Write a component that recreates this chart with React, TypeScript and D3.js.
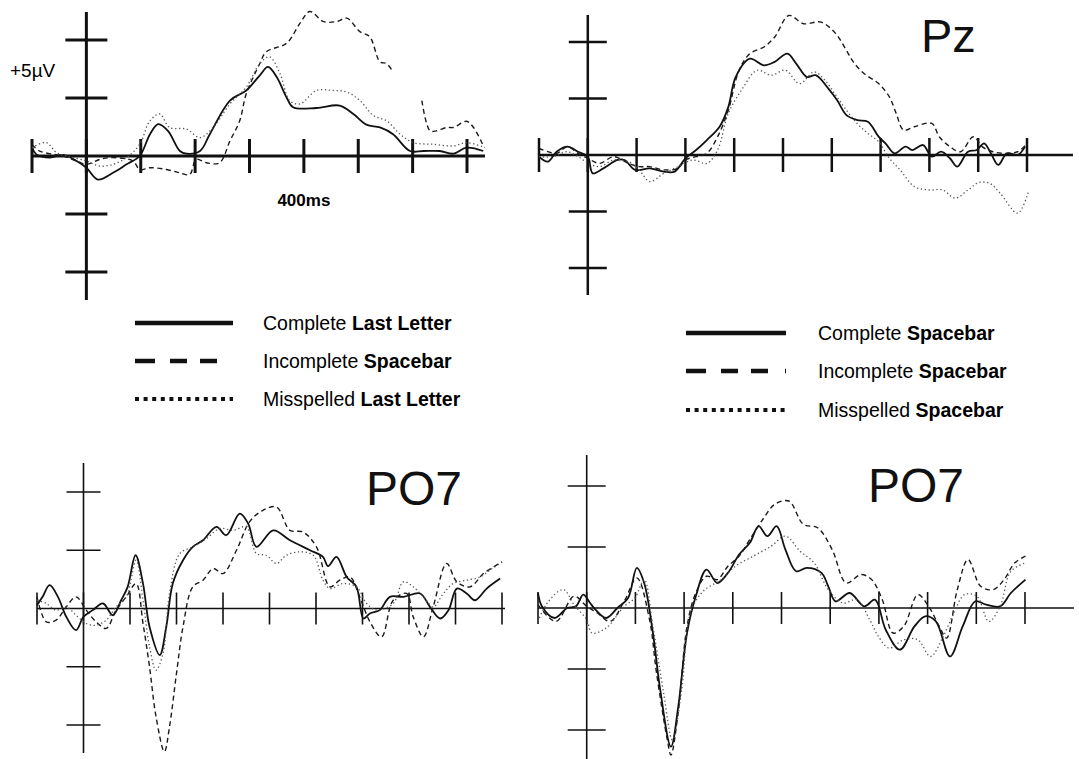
import React from "react"
import * as d3 from "d3"

const width = 1079
const height = 759

// ERP waveforms, [time ms, amplitude µV]; NaN marks a gap in the trace
const tlComplete: [number, number][] = [
  [-100, 0.72], [-92, 0.14], [-67, -0.14], [-43, 0.09], [-18, -0.43], [0, -1.01], [21, -2.03],
  [49, -1.45], [74, -0.72], [98, 0], [117, 1.88], [132, 2.75], [150, 2.17], [172, 0.43],
  [184, 0.2], [209, 0.43], [227, 1.88], [264, 4.78], [294, 5.65], [319, 6.96], [334, 7.68],
  [350, 6.81], [368, 5.07], [380, 4.2], [423, 4.14], [466, 4.35], [491, 3.62], [515, 2.7],
  [540, 2.46], [564, 1.88], [595, 0.43], [620, 0.43], [650, 0.43], [675, 0.2], [699, 0.72],
  [730, 0.43],
]
const tlIncomplete: [number, number][] = [
  [-100, 1.0], [-86, 0.43], [-43, 0], [-18, -0.43], [0, -0.72], [25, -0.29], [49, -0.14],
  [86, -0.43], [98, -1.16], [117, -1.01], [147, -1.16], [172, -1.45], [190, -1.59],
  [202, -0.29], [221, -0.58], [245, -0.58], [264, 1.3], [282, 3.04], [294, 5.36], [319, 7.97],
  [331, 8.99], [368, 9.71], [393, 11.45], [411, 12.46], [436, 11.59], [460, 11.59],
  [479, 11.88], [503, 10.72], [521, 10.29], [540, 8.12], [552, 7.97], [564, 7.25],
  [590, NaN],
  [617, 4.78], [632, 2.17], [644, 2.17], [663, 2.46], [675, 2.46], [699, 2.99], [712, 2.46],
  [730, 0.87],
]
const tlMisspelled: [number, number][] = [
  [-100, 0.72], [-74, 1.16], [-55, 0.29], [-37, 0], [0, -0.43], [25, -0.87], [49, -0.72],
  [74, -0.14], [98, 1.01], [117, 3.04], [135, 3.62], [153, 2.46], [184, 2.32], [209, 1.59],
  [233, 2.46], [264, 4.49], [294, 5.94], [319, 7.97], [337, 8.55], [356, 7.1], [374, 4.78],
  [393, 4.49], [423, 5.65], [454, 5.65], [479, 5.51], [503, 4.78], [528, 3.48], [552, 3.04],
  [577, 1.88], [601, 1.16], [638, 1.01], [675, 0.87], [699, 1.16], [733, 0.72],
]

const trComplete: [number, number][] = [
  [-100, -0.15], [-82, -0.59], [-64, 0.29], [-42, 0.74], [-20, 0.29], [0, -0.15], [10, -1.62],
  [32, -1.18], [61, -0.44], [75, -0.44], [97, -1.32], [127, -1.18], [156, -1.47], [178, -1.47],
  [200, -0.29], [222, 0.44], [244, 1.32], [270, 2.5], [288, 4.26], [303, 6.9], [332, 8.53],
  [361, 7.94], [383, 8.24], [409, 8.97], [427, 8.09], [449, 6.9], [467, 7.06], [493, 5.88],
  [511, 4.85], [530, 3.53], [552, 3.09], [574, 2.94], [596, 1.62], [610, 1.03], [629, 0.15],
  [651, 0.74], [665, 0.44], [687, 0.88], [705, -0.15], [724, 0.29], [742, -0.29], [757, -1.03],
  [779, 0.29], [797, 0.44], [812, 1.03], [826, 0.15], [841, -0.88], [859, 0.15], [881, 0],
  [896, 0.74],
]
const trIncomplete: [number, number][] = [
  [-100, 0.59], [-64, 0.15], [-42, 0.74], [-20, 0.15], [0, -0.29], [24, -0.74], [53, -0.15],
  [83, -0.74], [105, -1.03], [127, -1.03], [156, -1.32], [185, -1.18], [200, -0.44],
  [222, -0.15], [244, 0.15], [266, 1.62], [288, 3.97], [310, 7.5], [332, 8.97], [361, 9.56],
  [383, 10.44], [412, 12.35], [442, 11.62], [478, 11.76], [508, 10.74], [530, 9.26],
  [544, 8.24], [566, 7.21], [596, 6.32], [618, 5.15], [632, 3.68], [647, 2.21], [669, 2.5],
  [705, 2.79], [720, 1.62], [742, 0.74], [764, 0.29], [790, 1.62], [808, 0.74], [830, 0.29],
  [852, 0.15], [881, 0.29], [900, 1.03],
]
const trMisspelled: [number, number][] = [
  [-100, -0.15], [-71, -0.15], [-42, 0.29], [-20, -0.15], [2, -0.74], [24, -1.03], [53, -0.44],
  [83, -0.59], [105, -1.32], [127, -2.35], [156, -1.62], [185, -1.03], [215, -0.44],
  [244, -0.74], [266, 0.44], [288, 3.68], [317, 5.88], [347, 7.5], [376, 7.06], [405, 7.5],
  [434, 6.32], [464, 7.35], [486, 6.62], [508, 5.29], [530, 3.97], [552, 2.79], [574, 1.91],
  [596, 1.18], [618, -0.29], [640, -1.32], [669, -2.79], [698, -3.09], [727, -3.09],
  [753, -3.82], [779, -3.09], [801, -2.44], [823, -2.5], [845, -3.38], [881, -5.15],
  [903, -3.24],
]

const blComplete: [number, number][] = [
  [-100, 0.29], [-88, 1.0], [-73, 2.0], [-55, 1.0], [-37, -0.71], [-16, -1.86], [0, -0.71],
  [20, -0.14], [42, 0.43], [63, -0.57], [81, 0.71], [95, 1.86], [112, 4.57], [128, 2.14],
  [142, -1.57], [164, -4.0], [178, -1.57], [192, 2.14], [214, 4.14], [235, 5.29], [257, 5.86],
  [286, 7.0], [307, 6.29], [336, 8.14], [354, 7.29], [372, 5.29], [408, 6.71], [444, 5.86],
  [487, 5.0], [515, 4.43], [526, 3.63], [544, 4.43], [566, 2.71], [587, 1.86], [602, -0.86],
  [616, -0.43], [637, -0.14], [659, 1.0], [688, 1.0], [724, 1.29], [745, 0.14], [767, -0.86],
  [785, -0.14], [803, 1.71], [824, 1.29], [842, 0.71], [867, 1.71], [896, 2.57],
]
const blIncomplete: [number, number][] = [
  [-100, 1.0], [-80, -1.14], [-59, -1.0], [-37, 0.14], [-16, 1.0], [6, -0.14], [27, -1.14],
  [49, -1.71], [70, -0.14], [92, 1.0], [113, 2.14], [128, -1.29], [142, -5.0], [156, -9.29],
  [174, -12.29], [185, -10.14], [200, -5.57], [214, -1.57], [235, 1.86], [257, 2.43],
  [279, 3.43], [300, 3.0], [329, 5.0], [357, 7.43], [386, 8.43], [415, 8.71], [444, 6.71],
  [472, 6.57], [501, 5.29], [530, 1.86], [551, 2.43], [573, 2.71], [594, 1.0], [616, -1.14],
  [641, -2.43], [666, 0.71], [695, 1.29], [709, -0.71], [731, -2.43], [752, 0.14],
  [781, 3.86], [803, 2.29], [831, 1.86], [860, 3.0], [882, 3.57], [900, 4.0],
]
const blMisspelled: [number, number][] = [
  [-100, 0.71], [-80, 0.43], [-59, -0.14], [-37, 0.14], [-16, -0.57], [6, -1.29], [27, -1.43],
  [49, -1.0], [70, 0.14], [92, 1.0], [113, 4.14], [128, 0.71], [142, -3.29], [156, -5.29],
  [171, -3.86], [185, 1.29], [207, 4.71], [235, 5.29], [264, 6.0], [293, 6.86], [322, 6.71],
  [350, 7.0], [372, 4.71], [393, 4.57], [415, 3.86], [436, 4.57], [465, 4.86], [494, 4.57],
  [515, 2.43], [530, 1.71], [558, 2.14], [587, 1.86], [609, 0.43], [630, -0.14], [666, 0.43],
  [688, 2.29], [709, 1.86], [731, 1.0], [752, 0.14], [774, 1.29], [795, 2.14], [824, 2.43],
  [853, 2.71], [874, 3.29], [900, 4.0],
]

const brComplete: [number, number][] = [
  [-100, 1.23], [-92, 0.14], [-66, -0.82], [-40, 0], [-22, 0.14], [-7, 1.1], [7, 0.41],
  [18, -0.14], [40, -0.82], [63, 0], [85, 0.82], [103, 3.29], [118, 2.05], [136, -2.05],
  [151, -6.71], [173, -11.37], [188, -8.08], [206, -2.05], [224, 0.96], [246, 3.15],
  [268, 2.05], [290, 2.88], [313, 4.38], [335, 5.34], [353, 6.71], [371, 5.89], [390, 6.71],
  [408, 4.79], [430, 3.01], [452, 3.29], [482, 2.88], [496, 1.78], [511, 0.55], [540, 1.23],
  [570, 0.14], [592, 0.68], [614, -1.78], [643, -3.42], [673, -1.51], [695, -0.68],
  [717, -1.1], [746, -3.97], [772, -1.51], [798, 0.55], [820, 0.27], [849, 0.14], [871, 1.23],
  [901, 2.33],
]
const brIncomplete: [number, number][] = [
  [-100, 0.27], [-63, -1.1], [-26, 0.96], [0, 0.14], [22, -0.41], [48, -1.1], [77, 0.55],
  [103, 2.47], [129, -0.96], [143, -5.21], [165, -10.68], [173, -12.05], [188, -8.49],
  [206, -1.51], [224, 1.23], [246, 2.6], [268, 2.33], [290, 3.42], [313, 4.25], [335, 5.62],
  [364, 7.4], [386, 8.49], [415, 8.77], [445, 6.85], [474, 6.58], [504, 4.79], [533, 2.05],
  [563, 2.74], [585, 2.33], [607, 0.68], [629, -2.05], [651, -1.51], [680, 1.1], [702, 0.14],
  [724, -1.51], [739, -2.47], [761, 1.51], [783, 3.97], [809, 1.78], [835, 1.51], [857, 2.33],
  [879, 3.7], [901, 4.25],
]
const brMisspelled: [number, number][] = [
  [-100, -1.1], [-81, 0.41], [-48, 1.51], [-26, 0.27], [0, -0.96], [11, -2.05], [40, -1.64],
  [77, 0.14], [99, 0.82], [118, 2.33], [136, -1.51], [158, -6.99], [176, -10.82],
  [195, -6.71], [213, -0.41], [239, 1.37], [276, 2.33], [305, 3.42], [342, 4.25], [379, 5.07],
  [408, 5.89], [438, 4.66], [467, 3.7], [496, 1.51], [526, 0.41], [555, 0.68], [581, -0.96],
  [599, -2.33], [621, -3.29], [651, -2.6], [680, -2.6], [706, -3.97], [732, -2.33],
  [754, -0.41], [776, 1.1], [801, 0.96], [826, -1.1], [849, 0.14], [871, 3.01], [901, 3.7],
]

// ticks and labels
const shortTimeTicks = [-100, 0, 100, 200, 300, 400, 500, 600, 700]
const longTimeTicks = [-100, 0, 100, 200, 300, 400, 500, 600, 700, 800, 900]
const voltTicks = [-10, -5, 5, 10]
const leftLegend = [
  ["Complete ", "Last Letter"],
  ["Incomplete ", "Spacebar"],
  ["Misspelled ", "Last Letter"],
]
const rightLegend = [
  ["Complete ", "Spacebar"],
  ["Incomplete ", "Spacebar"],
  ["Misspelled ", "Spacebar"],
]

const styles = [
  { stroke: "#111", strokeWidth: 1.8, dash: "none" },
  { stroke: "#1a1a1a", strokeWidth: 1.4, dash: "5 3.5" },
  { stroke: "#555", strokeWidth: 1.3, dash: "1.3 2.6" },
]
const legendDash = ["none", "20 15 17 13 17 17 2 60", "4 4.6"]

const panels = [
  {
    key: "tl", series: [tlComplete, tlIncomplete, tlMisspelled], ticks: shortTimeTicks,
    x: [-100, 700, 32, 467], xEnd: 485, y: [272, 40], yAxis: [12, 300], xTick: 17, yTick: 21,
    axisWidth: 3,
  },
  {
    key: "tr", series: [trComplete, trIncomplete, trMisspelled], ticks: longTimeTicks,
    x: [-100, 900, 539, 1027], xEnd: 1073, y: [268, 42], yAxis: [15, 295], xTick: 17, yTick: 19,
    axisWidth: 2.5, label: "Pz", lx: 921, ly: 52,
  },
  {
    key: "bl", series: [blComplete, blIncomplete, blMisspelled], ticks: longTimeTicks,
    x: [-100, 900, 37, 502], xEnd: 505, y: [725, 492], yAxis: [463, 753], xTick: 16, yTick: 17,
    axisWidth: 1.6, label: "PO7", lx: 366, ly: 505,
  },
  {
    key: "br", series: [brComplete, brIncomplete, brMisspelled], ticks: longTimeTicks,
    x: [-100, 900, 538, 1025], xEnd: 1074, y: [730, 486], yAxis: [455, 759], xTick: 16, yTick: 19,
    axisWidth: 1.6, label: "PO7", lx: 868, ly: 502,
  },
]

const Panel = ({ p }) => {
  const xScale = d3.scaleLinear().domain([p.x[0], p.x[1]]).range([p.x[2], p.x[3]])
  const yScale = d3.scaleLinear().domain([-10, 10]).range(p.y)
  const x0 = xScale(0)
  const y0 = yScale(0)
  const line = d3
    .line<[number, number]>()
    .defined(d => !isNaN(d[1]))
    .x(d => xScale(d[0]))
    .y(d => yScale(d[1]))
    .curve(d3.curveCatmullRom.alpha(0.5))
  const axisStyle = { stroke: "#111", strokeWidth: p.axisWidth }
  return (
    <g>
      <line x1={xScale(p.x[0])} x2={p.xEnd} y1={y0} y2={y0} style={axisStyle} />
      <line x1={x0} x2={x0} y1={p.yAxis[0]} y2={p.yAxis[1]} style={axisStyle} />
      {p.ticks.map(t => (
        <line key={t} x1={xScale(t)} x2={xScale(t)} y1={y0 - p.xTick} y2={y0 + p.xTick} style={axisStyle} />
      ))}
      {voltTicks.map(v => (
        <line key={v} x1={x0 - p.yTick} x2={x0 + p.yTick} y1={yScale(v)} y2={yScale(v)} style={axisStyle} />
      ))}
      {p.series.map((s, i) => (
        <path
          key={i}
          d={line(s)}
          style={{
            fill: "none",
            stroke: styles[i].stroke,
            strokeWidth: styles[i].strokeWidth,
            strokeDasharray: styles[i].dash,
          }}
        />
      ))}
      {p.label && (
        <text x={p.lx} y={p.ly} style={{ fontSize: p.label === "Pz" ? 47 : 48, fill: "#111" }}>
          {p.label}
        </text>
      )}
      {p.key === "tl" && (
        <>
          <text x={10} y={77} style={{ fontSize: 19 }}>+5µV</text>
          <text x={xScale(400)} y={206} textAnchor="middle" style={{ fontSize: 17, fontWeight: "bold" }}>
            400ms
          </text>
        </>
      )}
    </g>
  )
}

const Legend = ({ items, x, rows, textX, lineLen }) => (
  <g>
    {items.map((item, i) => (
      <g key={i}>
        <line
          x1={x}
          x2={x + lineLen}
          y1={rows[i]}
          y2={rows[i]}
          style={{ stroke: "#111", strokeWidth: i === 2 ? 4 : 4.5, strokeDasharray: legendDash[i] }}
        />
        <text x={textX} y={rows[i] + 7} style={{ fontSize: 19.5 }}>
          {item[0]}
          <tspan style={{ fontWeight: "bold" }}>{item[1]}</tspan>
        </text>
      </g>
    ))}
  </g>
)

export default function App() {
  return (
    <svg
      width={width}
      height={height}
      style={{ position: "absolute", left: 0, top: 0, background: "#fff", fontFamily: "'Liberation Sans', Arial, sans-serif" }}
    >
      {panels.map(p => (
        <Panel key={p.key} p={p} />
      ))}
      <Legend items={leftLegend} x={135} rows={[323, 361, 399]} textX={263} lineLen={98} />
      <Legend items={rightLegend} x={686} rows={[333, 371, 410]} textX={818} lineLen={100} />
    </svg>
  )
}
